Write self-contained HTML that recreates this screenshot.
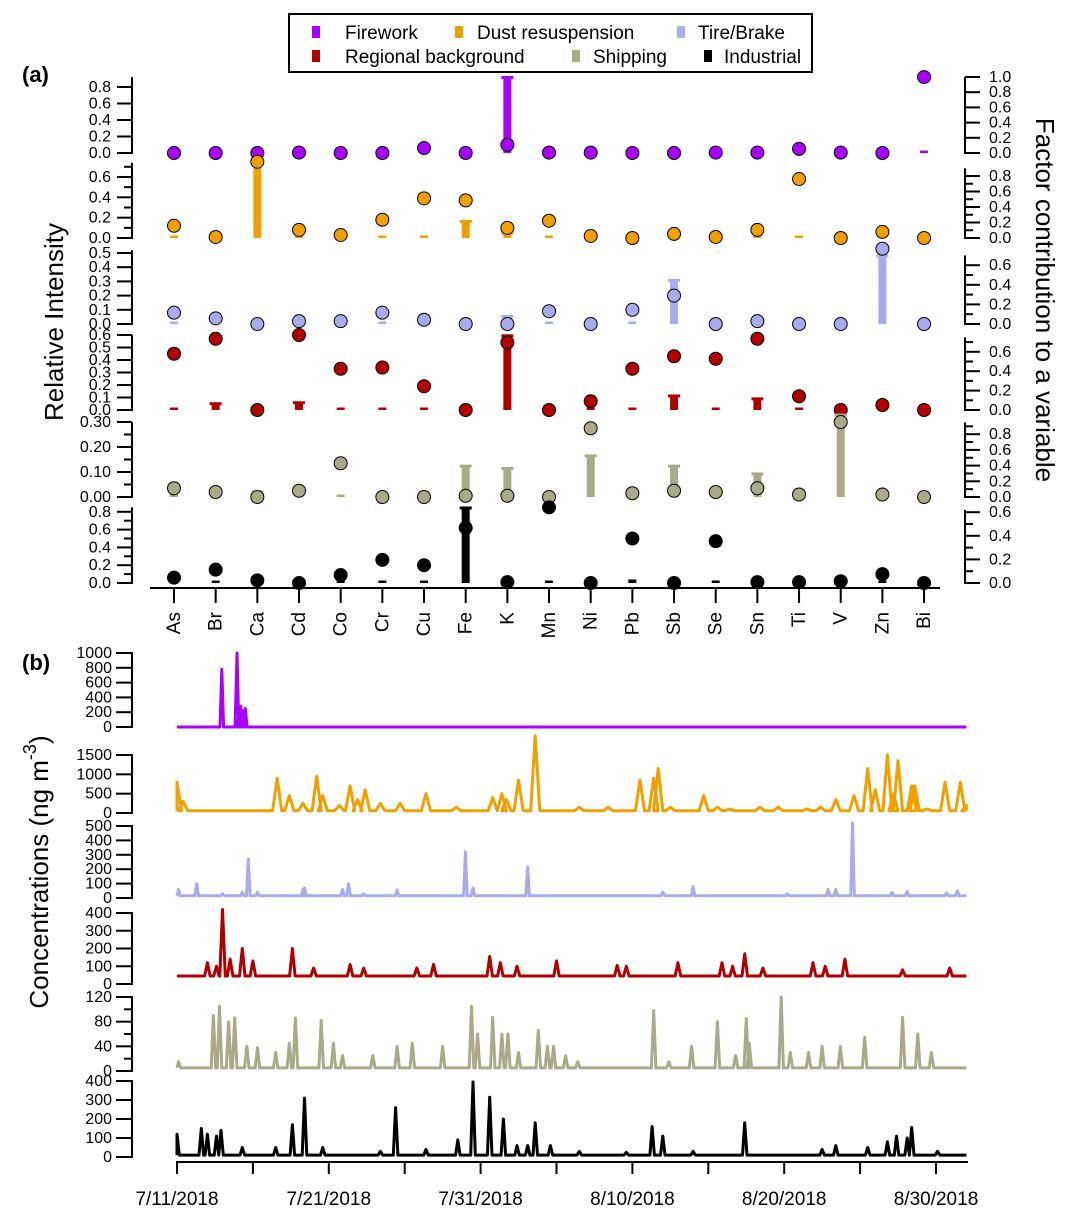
<!DOCTYPE html>
<html><head><meta charset="utf-8">
<style>
html,body{margin:0;padding:0;background:#fff;}
svg{display:block;font-family:"Liberation Sans",Arial,sans-serif;}
</style></head>
<body>
<svg id="chart" width="1073" height="1220" viewBox="0 0 1073 1220" xmlns="http://www.w3.org/2000/svg">
  <rect x="0" y="0" width="1073" height="1220" fill="#fff"/>
  <g id="legend">
    <rect x="289" y="14" width="523" height="58" fill="#fff" stroke="#000" stroke-width="2"/>
    <g><rect x="312" y="26" width="8" height="12" fill="#aa00ff"/><text x="345" y="39" font-size="19">Firework</text></g>
    <g><rect x="455" y="26" width="8" height="12" fill="#f0a000"/><text x="477" y="39" font-size="19">Dust resuspension</text></g>
    <g><rect x="677" y="26" width="8" height="12" fill="#aaaaee"/><text x="698" y="39" font-size="19">Tire/Brake</text></g>
    <g><rect x="312" y="50" width="8" height="12" fill="#b00000"/><text x="345" y="63" font-size="19">Regional background</text></g>
    <g><rect x="572" y="50" width="8" height="12" fill="#aaaa88"/><text x="593" y="63" font-size="19">Shipping</text></g>
    <g><rect x="704" y="50" width="8" height="12" fill="#000"/><text x="724" y="63" font-size="19">Industrial</text></g>
  </g>
  <text x="22" y="82" font-size="22" font-weight="bold">(a)</text>
  <text x="22" y="670" font-size="22" font-weight="bold">(b)</text>
  <text transform="translate(63,322) rotate(-90)" text-anchor="middle" font-size="26">Relative Intensity</text>
  <text transform="translate(1036,300) rotate(90)" text-anchor="middle" font-size="26">Factor contribution to a variable</text>
  <text transform="translate(48,872) rotate(-90)" text-anchor="middle" font-size="26">Concentrations (ng m<tspan dy="-12" font-size="18">-3</tspan><tspan dy="12">)</tspan></text>
  <g id="topPanel"></g>
  <g id="bottomPanel"></g>
</svg>
<script>
// ---- Panel (a) data ----
const elements = ["As","Br","Ca","Cd","Co","Cr","Cu","Fe","K","Mn","Ni","Pb","Sb","Se","Sn","Ti","V","Zn","Bi"];
const fireworkDots   = [0,0,0,0.005,0,0,0.06,0,0.1,0.005,0.005,0,0,0.005,0.005,0.05,0.005,0,0.92];
const fireworkBars   = [0,0,0,0,0,0,0,0,1.0,0,0,0,0,0,0,0,0,0,0.01];
const dustDots       = [0.12,0.01,0.75,0.08,0.03,0.18,0.39,0.37,0.1,0.17,0.02,0.0,0.04,0.01,0.08,0.58,0.0,0.06,0.0];
const dustBars       = [0.01,0,0.97,0.01,0,0.01,0.01,0.22,0.07,0.01,0,0,0,0,0.01,0.01,0,0.01,0];
const tireDots       = [0.08,0.04,0.0,0.02,0.02,0.08,0.03,0.0,0.0,0.09,0.0,0.1,0.2,0.0,0.02,0.0,0.0,0.53,0.0];
const tireBars       = [0.01,0,0,0,0,0.01,0,0.01,0.08,0.01,0,0.02,0.45,0,0,0,0,0.7,0];
const regionalDots   = [0.45,0.57,0.0,0.6,0.33,0.34,0.19,0.0,0.54,0.0,0.07,0.33,0.43,0.41,0.57,0.11,0.0,0.04,0.0];
const regionalBars   = [0.01,0.07,0,0.08,0.01,0.01,0.01,0,0.77,0,0,0.01,0.15,0.01,0.12,0.01,0,0.05,0];
const shippingDots   = [0.035,0.02,0.0,0.025,0.135,0.0,0.0,0.005,0.005,0.0,0.275,0.015,0.025,0.02,0.035,0.01,0.3,0.01,0.0];
const shippingBars   = [0.01,0,0.07,0,0.02,0,0,0.4,0.37,0,0.53,0,0.4,0.01,0.3,0,1.05,0,0];
const industrialDots = [0.06,0.15,0.03,0.0,0.09,0.26,0.2,0.62,0.01,0.85,0.0,0.5,0.0,0.47,0.01,0.01,0.02,0.1,0.0];
const industrialBars = [0.01,0.02,0.01,0,0.01,0.01,0.02,0.64,0,0.02,0,0.03,0,0.02,0,0,0,0.02,0];

// ---- Panel (b) data: baselines and [dayOffsetFrom 7/11, value] peaks ----
const dateLabels = ["7/11/2018","7/21/2018","7/31/2018","8/10/2018","8/20/2018","8/30/2018"];
const dateTickDays = [0,10,20,30,40,50];
const fireworkBase = 0;
const fireworkPeaks = [[2.95,780],[3.95,1000],[4.1,200],[4.2,280],[4.35,220],[4.5,250]];
const dustBase = 60;
const dustPeaks = [[0,800],[0.4,300],[6.6,900],[7.4,450],[8.3,250],[9.2,950],[9.6,450],[10.7,200],[11.4,700],[11.9,350],[12.4,600],[13.4,250],[14.7,250],[16.4,500],[18.4,150],[20.8,400],[21.4,500],[21.7,350],[22.5,850],[23.6,2000],[26.5,150],[28.4,150],[30.5,850],[31.4,900],[31.7,1150],[32.5,150],[34.7,450],[35.6,150],[36.4,100],[38.4,150],[39.6,150],[41.5,100],[42.4,150],[43.4,350],[44.6,450],[45.5,1150],[46.0,600],[46.8,1500],[47.2,500],[47.5,1350],[48.4,700],[48.6,700],[49.4,100],[50.6,800],[51.6,800],[52.0,200]];
const tireBase = 15;
const tirePeaks = [[0.1,60],[1.3,100],[3.0,30],[4.3,40],[4.7,270],[5.3,40],[8.3,60],[8.4,70],[10.9,60],[11.3,100],[12.3,30],[14.5,55],[19.0,320],[19.5,70],[23.1,215],[32.0,40],[34.0,80],[40.2,30],[42.9,60],[43.4,60],[44.5,520],[47.1,40],[48.1,45],[50.7,35],[51.4,50]];
const regionalBase = 45;
const regionalPeaks = [[2.0,120],[2.6,100],[3.0,420],[3.5,140],[4.3,200],[5.0,130],[7.6,200],[9.0,90],[11.4,110],[12.3,90],[15.8,90],[16.9,110],[20.6,155],[21.3,120],[22.4,100],[25.0,130],[29.0,105],[29.6,100],[33.0,120],[35.9,120],[36.6,100],[37.4,170],[38.6,90],[41.9,120],[42.7,100],[44.0,140],[47.8,80],[50.9,90]];
const shippingBase = 5;
const shippingPeaks = [[0.1,15],[2.4,90],[2.8,105],[3.4,80],[3.8,86],[4.6,40],[5.3,38],[6.5,30],[7.4,45],[7.8,86],[9.5,82],[10.3,45],[10.9,25],[12.9,25],[14.5,40],[15.5,45],[17.5,40],[19.4,105],[19.8,60],[20.8,87],[21.4,60],[21.8,60],[22.5,30],[23.8,66],[24.4,40],[24.8,40],[25.6,25],[26.4,15],[31.4,98],[32.4,15],[33.9,40],[35.6,80],[36.8,25],[37.5,85],[37.7,45],[39.8,120],[40.4,30],[41.6,30],[42.5,40],[43.7,40],[45.3,55],[47.8,87],[48.8,60],[49.7,30]];
const industrialBase = 10;
const industrialPeaks = [[0,120],[1.6,150],[2.0,120],[2.6,110],[2.9,140],[4.3,50],[6.5,50],[7.6,170],[8.4,310],[9.6,50],[13.4,30],[14.4,260],[16.4,40],[18.5,90],[19.5,395],[20.6,315],[21.5,200],[22.4,60],[23.1,60],[23.6,180],[24.6,60],[26.5,30],[29.6,25],[31.3,160],[32.0,110],[34.0,30],[37.4,180],[42.5,40],[43.4,60],[45.5,50],[46.8,80],[47.4,110],[48.1,100],[48.4,155],[50.1,30]];

const NS = "http://www.w3.org/2000/svg";
function mk(parent, tag, attrs){ const e=document.createElementNS(NS,tag); for(const k in attrs) e.setAttribute(k,attrs[k]); parent.appendChild(e); return e; }

// ---- Panel (a) ----
const topG = document.getElementById('topPanel');
const ex = i => 174 + i*41.67;
const panels = [
 {name:'firework', color:'#aa00ff', dots:fireworkDots, bars:fireworkBars, y0:153, lsc:82.5, ltop:0.92, lt:[0,0.2,0.4,0.6,0.8], lminor:[], lfmt:1, rsc:76, rtop:1.0, rt:[0,0.2,0.4,0.6,0.8,1.0], rminor:[]},
 {name:'dust', color:'#f0a000', dots:dustDots, bars:dustBars, y0:238, lsc:101.7, ltop:0.74, lt:[0,0.2,0.4,0.6], lminor:[0.1,0.3,0.5,0.7], lfmt:1, rsc:77.5, rtop:0.9, rt:[0,0.2,0.4,0.6,0.8], rminor:[0.1,0.3,0.5,0.7]},
 {name:'tire-brake', color:'#aaaaee', dots:tireDots, bars:tireBars, y0:324, lsc:142, ltop:0.52, lt:[0,0.1,0.2,0.3,0.4,0.5], lminor:[], lfmt:1, rsc:98, rtop:0.7, rt:[0,0.2,0.4,0.6], rminor:[0.1,0.3,0.5]},
 {name:'regional', color:'#b00000', dots:regionalDots, bars:regionalBars, y0:410, lsc:125, ltop:0.6, lt:[0,0.1,0.2,0.3,0.4,0.5,0.6], lminor:[], lfmt:1, rsc:97, rtop:0.75, rt:[0,0.2,0.4,0.6], rminor:[0.1,0.3,0.5,0.7]},
 {name:'shipping', color:'#aaaa88', dots:shippingDots, bars:shippingBars, y0:497, lsc:250, ltop:0.3, lt:[0,0.1,0.2,0.3], lminor:[0.05,0.15,0.25], lfmt:2, rsc:78.5, rtop:0.95, rt:[0,0.2,0.4,0.6,0.8], rminor:[0.1,0.3,0.5,0.7,0.9]},
 {name:'industrial', color:'#000000', dots:industrialDots, bars:industrialBars, y0:583, lsc:89, ltop:0.85, lt:[0,0.2,0.4,0.6,0.8], lminor:[0.1,0.3,0.5,0.7], lfmt:1, rsc:118, rtop:0.62, rt:[0,0.2,0.4,0.6], rminor:[0.1,0.3,0.5]}
];
panels.forEach(p=>{
  const g = mk(topG,'g',{});
  
  
  const ly = v => p.y0 - v*p.lsc;
  const ry = v => p.y0 - v*p.rsc;
  const la = mk(g,'g',{});
  
  
  mk(la,'line',{x1:132,x2:132,y1:p.y0+1,y2:ly(p.ltop),stroke:'#000','stroke-width':2});
  p.lt.forEach(v=>{ mk(la,'line',{x1:117,x2:132,y1:ly(v),y2:ly(v),stroke:'#000','stroke-width':2});
    const t=mk(la,'text',{x:111,y:ly(v)+5,'text-anchor':'end','font-size':16}); t.textContent=v.toFixed(p.lfmt); });
  p.lminor.forEach(v=> mk(la,'line',{x1:124,x2:132,y1:ly(v),y2:ly(v),stroke:'#000','stroke-width':2}));
  const ra = mk(g,'g',{});
  
  
  mk(ra,'line',{x1:965,x2:965,y1:p.y0+1,y2:ry(p.rtop),stroke:'#000','stroke-width':2});
  p.rt.forEach(v=>{ mk(ra,'line',{x1:965,x2:980,y1:ry(v),y2:ry(v),stroke:'#000','stroke-width':2});
    const t=mk(ra,'text',{x:989,y:ry(v)+5,'font-size':16}); t.textContent=v.toFixed(1); });
  p.rminor.forEach(v=> mk(ra,'line',{x1:965,x2:973,y1:ry(v),y2:ry(v),stroke:'#000','stroke-width':2}));
  p.bars.forEach((b,i)=>{
    const bh = Math.max(b*p.rsc, 2.5);
    const r = mk(g,'rect',{x:ex(i)-4,y:p.y0-bh,width:8,height:bh,fill:p.color});
    
    
    if(b>0.03){ mk(g,'rect',{x:ex(i)-6,y:p.y0-bh-1,width:12,height:3,fill:p.color}); }
  });
  p.dots.forEach((d,i)=>{
    const c = mk(g,'circle',{cx:ex(i),cy:ly(d),r:6.5,fill:p.color,stroke:'#000','stroke-width':1});
    
    
  });
});
const xa = mk(topG,'g',{});


mk(xa,'line',{x1:150,x2:940,y1:588,y2:588,stroke:'#000','stroke-width':2});
elements.forEach((e,i)=>{
  mk(xa,'line',{x1:ex(i),x2:ex(i),y1:588,y2:603,stroke:'#000','stroke-width':2});
  const t = mk(xa,'text',{transform:`translate(${ex(i)+6},${612}) rotate(-90)`,'text-anchor':'end','font-size':19});
  t.textContent = e;
});

// ---- Panel (b) ----
const botG = document.getElementById('bottomPanel');
const tx = d => 177 + d*15.18;
const series = [
 {name:'firework', color:'#aa00ff', base:fireworkBase, peaks:fireworkPeaks, y0:727, sc:74/1000, ticks:[0,200,400,600,800,1000], minor:[], w:0.12},
 {name:'dust', color:'#f0a000', base:dustBase, peaks:dustPeaks, y0:813, sc:58/1500, ticks:[0,500,1000,1500], minor:[], w:0.3},
 {name:'tire-brake', color:'#aaaaee', base:tireBase, peaks:tirePeaks, y0:898, sc:72/500, ticks:[0,100,200,300,400,500], minor:[], w:0.12},
 {name:'regional', color:'#b00000', base:regionalBase, peaks:regionalPeaks, y0:984, sc:71/400, ticks:[0,100,200,300,400], minor:[], w:0.18},
 {name:'shipping', color:'#aaaa88', base:shippingBase, peaks:shippingPeaks, y0:1071, sc:74/120, ticks:[0,40,80,120], minor:[20,60,100], w:0.15},
 {name:'industrial', color:'#000000', base:industrialBase, peaks:industrialPeaks, y0:1157, sc:76/400, ticks:[0,100,200,300,400], minor:[], w:0.15}
];
series.forEach(s=>{
  const g = mk(botG,'g',{});
  
  
  const yy = v => s.y0 - v*s.sc;
  const ax = mk(g,'g',{});
  
  
  mk(ax,'line',{x1:132,x2:132,y1:s.y0+1,y2:yy(s.ticks[s.ticks.length-1])-1,stroke:'#000','stroke-width':2});
  s.ticks.forEach(v=>{ mk(ax,'line',{x1:116,x2:132,y1:yy(v),y2:yy(v),stroke:'#000','stroke-width':2});
    const t=mk(ax,'text',{x:112,y:yy(v)+5,'text-anchor':'end','font-size':16}); t.textContent=v; });
  s.minor.forEach(v=> mk(ax,'line',{x1:124,x2:132,y1:yy(v),y2:yy(v),stroke:'#000','stroke-width':2}));
  const pts = [[0,s.base]];
  s.peaks.forEach(([d,v])=>{ pts.push([Math.max(0,d-s.w),s.base]); pts.push([d,v]); pts.push([Math.min(52,d+s.w),s.base]); });
  pts.push([52,s.base]);
  const path = pts.map(([d,v],k)=>(k?'L':'M')+tx(d).toFixed(1)+','+yy(v).toFixed(1)).join('');
  const l = mk(g,'path',{d:path,fill:'none',stroke:s.color,'stroke-width':3,'stroke-linejoin':'round'});
  
  
});
const da = mk(botG,'g',{});


mk(da,'line',{x1:176,x2:968,y1:1162,y2:1162,stroke:'#000','stroke-width':2});
dateTickDays.forEach((d,i)=>{
  mk(da,'line',{x1:tx(d),x2:tx(d),y1:1162,y2:1174,stroke:'#000','stroke-width':2});
  if(d+5 <= 52) mk(da,'line',{x1:tx(d+5),x2:tx(d+5),y1:1162,y2:1174,stroke:'#000','stroke-width':2});
  const t = mk(da,'text',{x:tx(d),y:1205,'text-anchor':'middle','font-size':19});
  t.textContent = dateLabels[i];
});
</script>
</body></html>
